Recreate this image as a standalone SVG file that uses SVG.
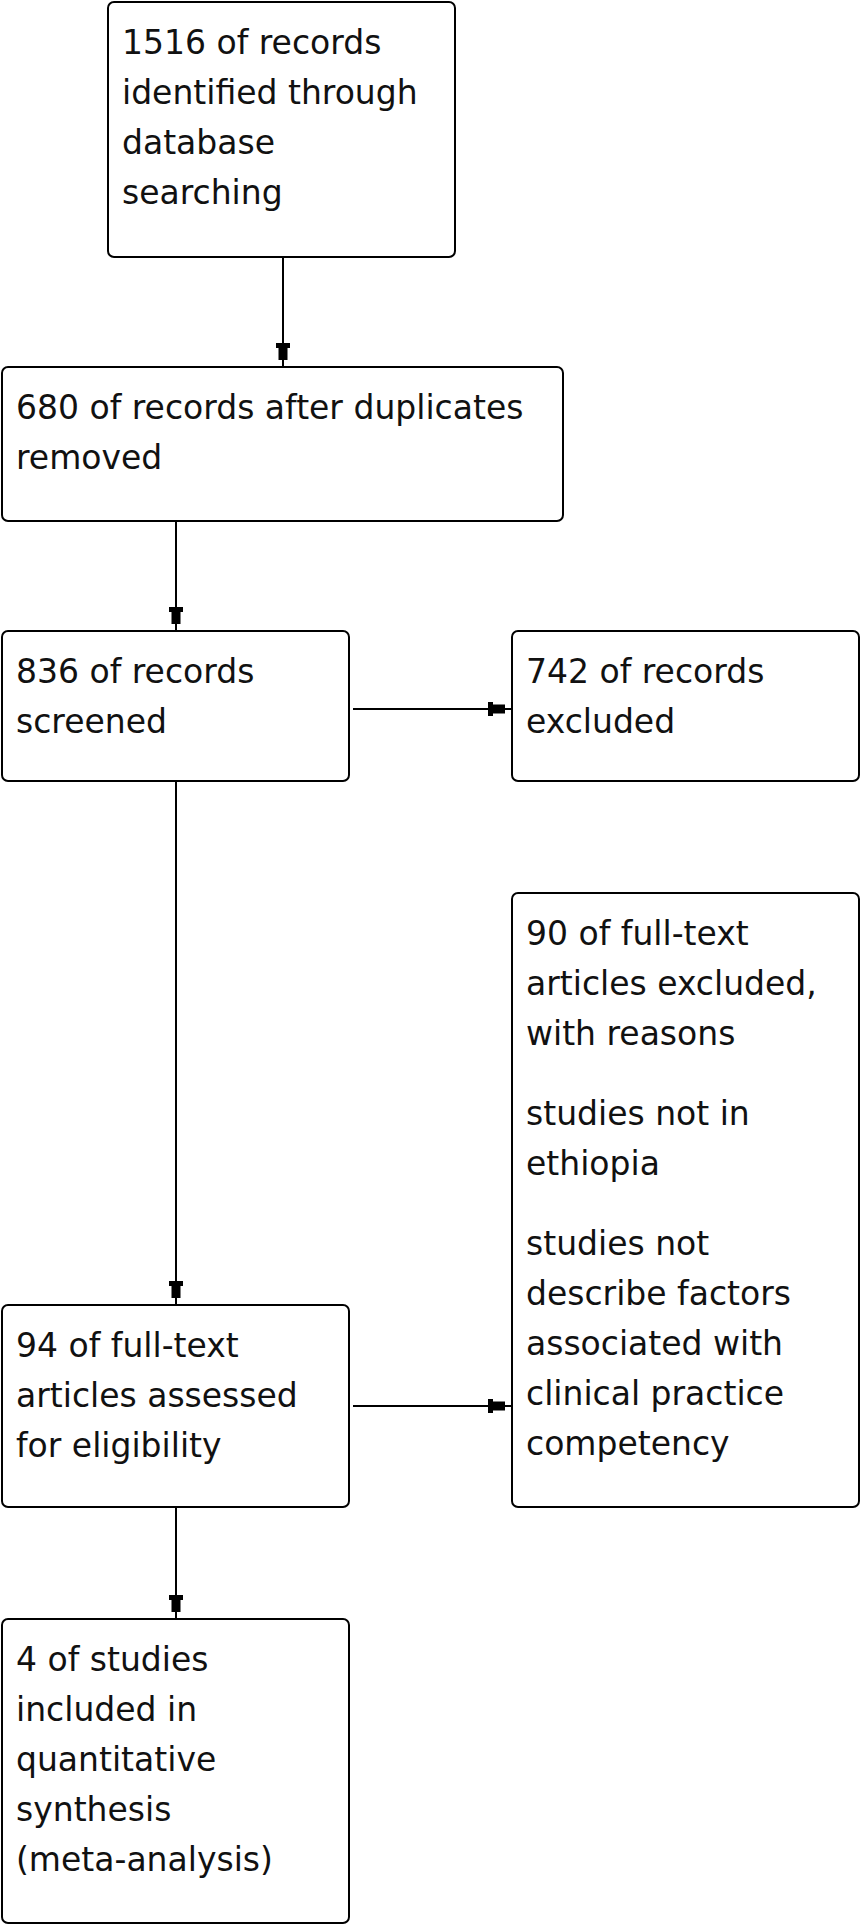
<svg xmlns="http://www.w3.org/2000/svg" width="861" height="1927" viewBox="0 0 861 1927">
<style>
.box{fill:#fff;stroke:#000;stroke-width:2}
.t{font-family:"DejaVu Sans",Verdana,sans-serif;font-size:33px;fill:#111}
.c{stroke:#000;stroke-width:2;fill:none;marker-end:url(#ah)}
</style>
<defs>
<marker id="ah" markerUnits="userSpaceOnUse" markerWidth="30" markerHeight="20" refX="24" refY="8" orient="auto">
<path d="M0,1 h5 v2.5 h12 v9 h-12 v2.5 h-5 z" fill="#000"/>
</marker>
</defs>
<rect width="861" height="1927" fill="#fff"/>
<g id="connectors">
<line class="c" x1="283" y1="257" x2="283" y2="367"/>
<line class="c" x1="176" y1="521" x2="176" y2="631"/>
<line class="c" x1="353" y1="709" x2="512" y2="709"/>
<line class="c" x1="176" y1="781" x2="176" y2="1305"/>
<line class="c" x1="353" y1="1406" x2="512" y2="1406"/>
<line class="c" x1="176" y1="1507" x2="176" y2="1619"/>
</g>
<g id="n1">
<rect class="box" x="108" y="2" width="347" height="255" rx="6"/>
<text class="t" x="122" y="54">1516 of records</text>
<text class="t" x="122" y="104">identified through</text>
<text class="t" x="122" y="154">database</text>
<text class="t" x="122" y="204">searching</text>
</g>
<g id="n2">
<rect class="box" x="2" y="367" width="561" height="154" rx="6"/>
<text class="t" x="16" y="419">680 of records after duplicates</text>
<text class="t" x="16" y="469">removed</text>
</g>
<g id="n3">
<rect class="box" x="2" y="631" width="347" height="150" rx="6"/>
<text class="t" x="16" y="683">836 of records</text>
<text class="t" x="16" y="733">screened</text>
</g>
<g id="n4">
<rect class="box" x="512" y="631" width="347" height="150" rx="6"/>
<text class="t" x="526" y="683">742 of records</text>
<text class="t" x="526" y="733">excluded</text>
</g>
<g id="n5">
<rect class="box" x="512" y="893" width="347" height="614" rx="6"/>
<text class="t" x="526" y="945">90 of full-text</text>
<text class="t" x="526" y="995">articles excluded,</text>
<text class="t" x="526" y="1045">with reasons</text>
<text class="t" x="526" y="1125">studies not in</text>
<text class="t" x="526" y="1175">ethiopia</text>
<text class="t" x="526" y="1255">studies not</text>
<text class="t" x="526" y="1305">describe factors</text>
<text class="t" x="526" y="1355">associated with</text>
<text class="t" x="526" y="1405">clinical practice</text>
<text class="t" x="526" y="1455">competency</text>
</g>
<g id="n6">
<rect class="box" x="2" y="1305" width="347" height="202" rx="6"/>
<text class="t" x="16" y="1357">94 of full-text</text>
<text class="t" x="16" y="1407">articles assessed</text>
<text class="t" x="16" y="1457">for eligibility</text>
</g>
<g id="n7">
<rect class="box" x="2" y="1619" width="347" height="304" rx="6"/>
<text class="t" x="16" y="1671">4 of studies</text>
<text class="t" x="16" y="1721">included in</text>
<text class="t" x="16" y="1771">quantitative</text>
<text class="t" x="16" y="1821">synthesis</text>
<text class="t" x="16" y="1871">(meta-analysis)</text>
</g>
</svg>
